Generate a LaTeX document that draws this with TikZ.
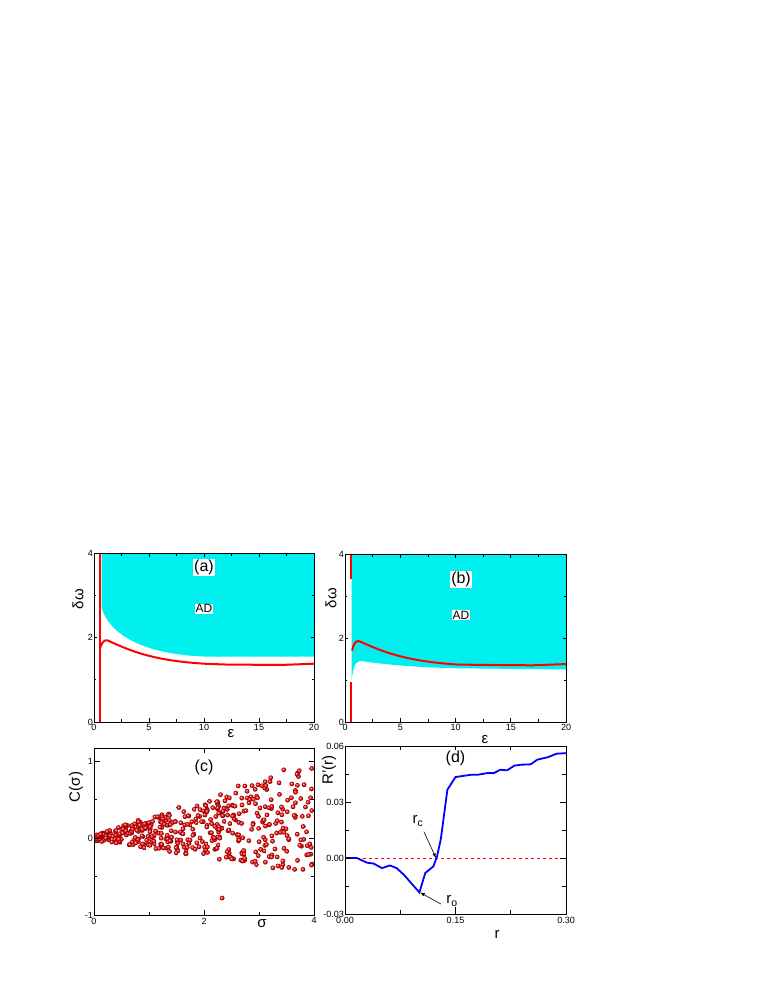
\documentclass[tikz,border=0pt]{standalone}
\usepackage{fontspec}
\setmainfont{Liberation Sans}
\usetikzlibrary{positioning}
\definecolor{adcyan}{RGB}{0,240,240}

\tikzset{
  tick/.style={line width=0.6pt},
  frame/.style={line width=0.8pt},
  ticklab/.style={font=\fontsize{9}{10}\selectfont, inner sep=1pt},
  panellab/.style={font=\fontsize{16}{18}\selectfont, fill=white, inner sep=1pt},
  adlab/.style={font=\fontsize{12}{14}\selectfont, fill=white, inner sep=1pt},
  axlab/.style={font=\fontsize{15}{17}\selectfont},
  redline/.style={red, line width=2pt},
  blueline/.style={blue, line width=1.8pt},
}

\begin{document}
\begin{tikzpicture}[x=1pt,y=-1pt]
    \useasboundingbox (0,0) rectangle (763,987);

    % panel (a)
    \begin{scope}[shift={(94,722)},x=11pt,y=42.25pt]
      \fill[adcyan] (0.7,4) -- (0.7,2.7)
        .. controls (1.5,2.0) and (5,1.6) .. (10,1.55) -- (20,1.55) -- (20,4) -- cycle;
      \draw[redline] (0.5,0) -- (0.5,4);
      \draw[redline] (0.55,1.75) .. controls (0.8,1.95) and (1.1,1.97) .. (1.5,1.9)
        .. controls (4,1.6) and (6,1.45) .. (10,1.38) -- (12,1.36) -- (17,1.35) -- (20,1.38);
      \draw[frame] (0,0) rectangle (20,4);
      \foreach \e in {0,5,...,20}{
        \draw[tick] (\e,0) -- ++(0,0.1);
        \draw[tick] (\e,4) -- ++(0,-0.1);
        \node[ticklab,below] (ax\e) at (\e,-0.03) {\e};}
      \foreach \e in {2.5,7.5,12.5,17.5}{
        \draw[tick] (\e,0) -- ++(0,0.06);
        \draw[tick] (\e,4) -- ++(0,-0.06);}
      \foreach \w in {0,2,4}{
        \draw[tick] (0,\w) -- ++(0.3,0);
        \draw[tick] (20,\w) -- ++(-0.3,0);
        \node[ticklab,left] (ay\w) at (0,\w) {\w};}
      \foreach \w in {1,3}{
        \draw[tick] (0,\w) -- ++(0.18,0);
        \draw[tick] (20,\w) -- ++(-0.18,0);}
      \node[panellab] (la) at (10,3.65) {(a)};
      \node[adlab] (ada) at (10,2.68) {AD};
    \end{scope}
    \node[axlab,rotate=90] (wa) at (78,599) {δω};
    \node[axlab] (ea) at (231,734) {ε};

    % panel (b)
    \begin{scope}[shift={(345,722)},x=11.05pt,y=42pt]
      \fill[adcyan] (0.6,4) -- (0.6,1.0) .. controls (0.8,1.4) and (1.0,1.45) .. (1.5,1.45)
        .. controls (4,1.35) and (7,1.3) .. (10,1.28) -- (20,1.25) -- (20,4) -- cycle;
      \draw[redline] (0.5,0) -- (0.5,0.95);
      \draw[redline] (0.5,3.4) -- (0.5,4);
      \draw[redline] (0.65,1.7) .. controls (0.8,1.92) and (1.1,1.97) .. (1.5,1.9)
        .. controls (4,1.6) and (6,1.45) .. (10,1.37) -- (12,1.36) -- (17,1.35) -- (20,1.38);
      \draw[frame] (0,0) rectangle (20,4);
      \foreach \e in {0,5,...,20}{
        \draw[tick] (\e,0) -- ++(0,0.1);
        \draw[tick] (\e,4) -- ++(0,-0.1);
        \node[ticklab,below] (bx\e) at (\e,-0.03) {\e};}
      \foreach \e in {2.5,7.5,12.5,17.5}{
        \draw[tick] (\e,0) -- ++(0,0.06);
        \draw[tick] (\e,4) -- ++(0,-0.06);}
      \foreach \w in {0,2,4}{
        \draw[tick] (0,\w) -- ++(0.3,0);
        \draw[tick] (20,\w) -- ++(-0.3,0);
        \node[ticklab,left] (by\w) at (0,\w) {\w};}
      \foreach \w in {1,3}{
        \draw[tick] (0,\w) -- ++(0.18,0);
        \draw[tick] (20,\w) -- ++(-0.18,0);}
      \node[panellab] (lb) at (10.5,3.4) {(b)};
      \node[adlab] (adb) at (10.5,2.55) {AD};
    \end{scope}
    \node[axlab,rotate=90] (wb) at (331,598) {δω};
    \node[axlab] (eb) at (485,740) {ε};

    % panel (c)
    \begin{scope}[shift={(94,838)},x=55pt,y=77pt]
      \pgfmathsetseed{11}
      \begin{scope}
        \clip (0,-1) rectangle (4,1.15);
        \foreach \i in {1,...,480}{
          \pgfmathsetmacro{\s}{4*rnd}
          \pgfmathsetmacro{\c}{0.07*\s+rand*(0.03+0.18*\s)}
          \shade[ball color=red] (\s,\c) circle[radius=2.4pt];}
        \shade[ball color=red] (2.33,-0.78) circle[radius=2.4pt];
      \end{scope}
      \draw[frame] (0,-1) rectangle (4,1.17);
      \foreach \s in {0,2,4}{
        \draw[tick] (\s,-1) -- ++(0,0.07);
        \draw[tick] (\s,1.17) -- ++(0,-0.07);
        \node[ticklab,below] (cx\s) at (\s,-1.02) {\s};}
      \foreach \s in {1,3}{
        \draw[tick] (\s,-1) -- ++(0,0.04);
        \draw[tick] (\s,1.17) -- ++(0,-0.04);}
      \foreach \c in {-1,0,1}{
        \draw[tick] (0,\c) -- ++(0.1,0);
        \draw[tick] (4,\c) -- ++(-0.1,0);
        \node[ticklab,left] (cy\c) at (0,\c) {\c};}
      \foreach \c in {-0.5,0.5}{
        \draw[tick] (0,\c) -- ++(0.06,0);
        \draw[tick] (4,\c) -- ++(-0.06,0);}
      \node[panellab] (lc) at (2,0.92) {(c)};
    \end{scope}
    \node[axlab,rotate=90] (cs) at (76,787) {C(σ)};
    \node[axlab] (sg) at (262,924) {σ};

    % panel (d)
    \begin{scope}[shift={(345,858)},x=736.7pt,y=1866pt]
      \draw[red, dashed, line width=0.8pt] (0,0) -- (0.3,0);
      \draw[blueline] (0,0) -- (0.016,0) -- (0.03,-0.0025) -- (0.039,-0.003)
        -- (0.05,-0.0054) -- (0.061,-0.004) -- (0.07,-0.0054) -- (0.08,-0.009)
        -- (0.091,-0.014) -- (0.101,-0.0184) -- (0.109,-0.008) -- (0.12,-0.0045)
        -- (0.125,0.001) -- (0.13,0.01) -- (0.139,0.0366) -- (0.15,0.0434)
        -- (0.171,0.0446) -- (0.18,0.0446) -- (0.193,0.0455) -- (0.202,0.0455)
        -- (0.211,0.0473) -- (0.22,0.047) -- (0.23,0.0495) -- (0.239,0.050)
        -- (0.252,0.0502) -- (0.261,0.0527) -- (0.276,0.0541) -- (0.287,0.0559)
        -- (0.3,0.0562);
      \draw[frame] (0,-0.03) rectangle (0.3,0.06);
      \foreach \r/\t in {0/0.00,0.15/0.15,0.3/0.30}{
        \draw[tick] (\r,-0.03) -- ++(0,0.0035);
        \draw[tick] (\r,0.06) -- ++(0,-0.0035);
        \node[ticklab,below] (dx\r) at (\r,-0.031) {\t};}
      \foreach \r in {0.075,0.225}{
        \draw[tick] (\r,-0.03) -- ++(0,0.002);
        \draw[tick] (\r,0.06) -- ++(0,-0.002);}
      \foreach \v/\t in {-0.03/-0.03,0/0.00,0.03/0.03,0.06/0.06}{
        \draw[tick] (0,\v) -- ++(0.008,0);
        \draw[tick] (0.3,\v) -- ++(-0.008,0);
        \node[ticklab,left] (dy\v) at (0,\v) {\t};}
      \foreach \v in {-0.015,0.015,0.045}{
        \draw[tick] (0,\v) -- ++(0.005,0);
        \draw[tick] (0.3,\v) -- ++(-0.005,0);}
      \node[panellab] (ld) at (0.15,0.0535) {(d)};
      \coordinate (pc) at (0.1235,0);
      \coordinate (po) at (0.102,-0.0185);
    \end{scope}
    \node[axlab,rotate=90] (rr) at (329,770) {R'(r)};
    \node[axlab] (rx) at (497,934) {r};
    \node[font=\fontsize{15}{17}\selectfont] (rc) at (418,821) {r$_{\mathrm c}$};
    \node[font=\fontsize{15}{17}\selectfont] (ro) at (452,901) {r$_{\mathrm o}$};
    \draw[-latex, line width=0.6pt] (rc.south east) ++(-3,2) -- (pc);
    \draw[-latex, line width=0.6pt] (ro.west) ++(-2,3) -- (po);
\end{tikzpicture}
\end{document}
